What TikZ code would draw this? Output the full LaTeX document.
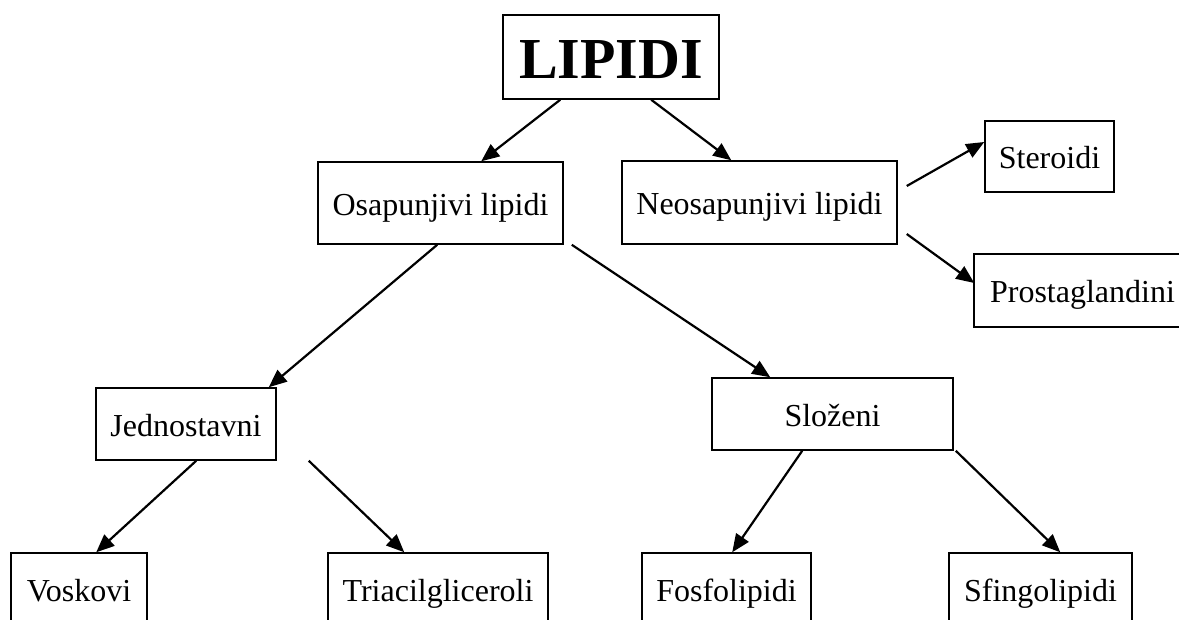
\documentclass[tikz,border=0pt]{standalone}
\usepackage{fontspec}
\setmainfont{Liberation Serif}
\usetikzlibrary{arrows.meta,calc}
\tikzset{
  box/.style={draw, line width=1.5pt, inner sep=0pt, text height=24pt, text depth=0pt,
    font=\fontsize{32}{32}\selectfont},
  titlebox/.style={draw, line width=1.5pt, inner sep=0pt, text height=42pt, text depth=0pt,
    font=\fontsize{58}{58}\selectfont\bfseries},
  arr/.style={line width=2.2pt, -{Triangle[length=18pt,width=15pt]}}
}
\begin{document}
\begin{tikzpicture}[x=1pt,y=-1pt]
\clip (0,0) rectangle (1179,619);
\fill[white] (0,0) rectangle (1179,619);
\node[titlebox, minimum width=216pt, minimum height=84pt] (lipidi) at (611,57) {LIPIDI};
\node[box, minimum width=245pt, minimum height=82pt] (osap) at (440.5,203) {Osapunjivi lipidi};
\node[box, minimum width=275pt, minimum height=83pt] (neosap) at (759.5,202.5) {Neosapunjivi lipidi};
\node[box, minimum width=129pt, minimum height=71pt] (steroidi) at (1049.5,156.5) {Steroidi};
\node[box, minimum width=217pt, minimum height=73pt] (prosta) at (1082.5,290.5) {Prostaglandini};
\node[box, minimum width=180pt, minimum height=72pt] (jedno) at (186,424) {Jednostavni};
\node[box, minimum width=241pt, minimum height=72pt] (slozeni) at (832.5,414) {Složeni};
\node[box, minimum width=136pt, minimum height=72pt] (voskovi) at (79,589) {Voskovi};
\node[box, minimum width=220pt, minimum height=72pt] (triacil) at (438,589) {Triacilgliceroli};
\node[box, minimum width=169pt, minimum height=72pt] (fosfo) at (726.5,589) {Fosfolipidi};
\node[box, minimum width=183pt, minimum height=72pt] (sfingo) at (1040.5,589) {Sfingolipidi};
\coordinate (tstart) at ($(jedno.south east)+(32,0)$);
\draw[arr] ($(lipidi.south west)+(58,0)$) -- ($(osap.north west)+(164,0)$);
\draw[arr] ($(lipidi.south west)+(149,0)$) -- ($(neosap.north west)+(110,0)$);
\draw[arr] ($(osap.south west)+(120,0)$) -- ($(jedno.north east)+(-8,0)$);
\draw[arr] ($(osap.south east)+(8,0)$) -- ($(slozeni.north west)+(59,0)$);
\draw[arr] ($(neosap.east)+(9,-16.5)$) -- ($(steroidi.west)+(0,-14.5)$);
\draw[arr] ($(neosap.east)+(9,31.5)$) -- ($(prosta.west)+(1,-7.5)$);
\draw[arr] ($(jedno.south west)+(101,0)$) -- ($(voskovi.north west)+(86,0)$);
\draw[arr] (tstart) -- ($(triacil.north west)+(77,0)$);
\draw[arr] ($(slozeni.south west)+(91,0)$) -- ($(fosfo.north west)+(91,0)$);
\draw[arr] ($(slozeni.south east)+(2,0)$) -- ($(sfingo.north west)+(112,0)$);
\end{tikzpicture}
\end{document}
